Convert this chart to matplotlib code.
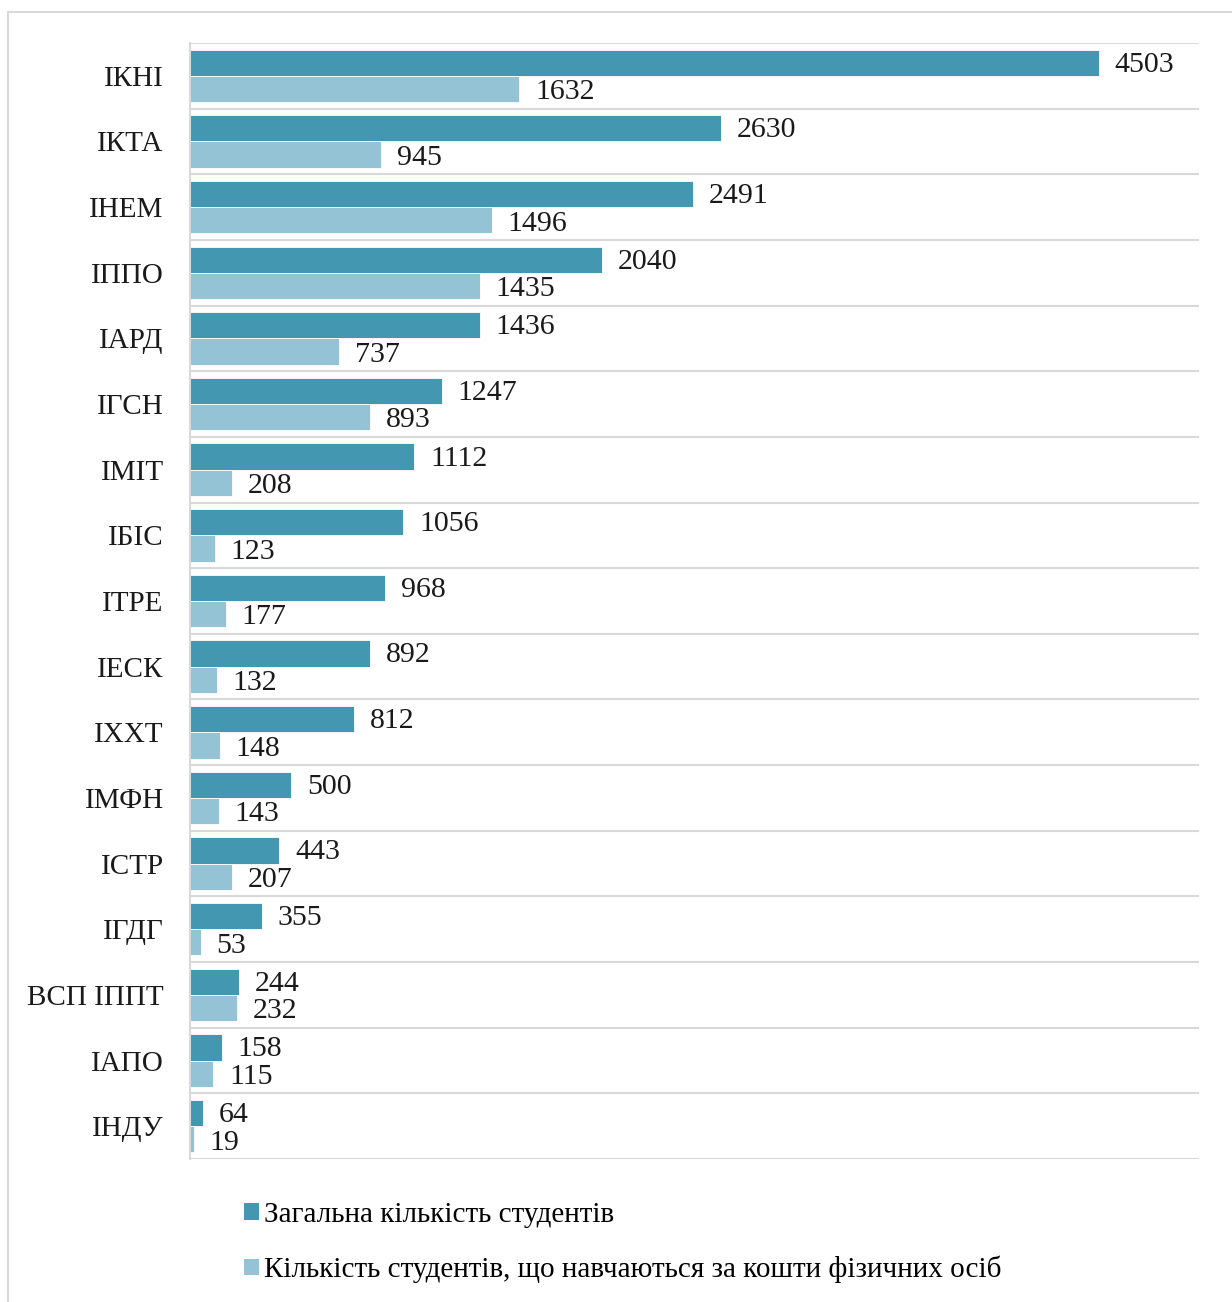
import numpy as np
import matplotlib.pyplot as plt
from matplotlib.patches import Rectangle, Patch

plt.rcParams["font.family"] = ["Liberation Serif", "DejaVu Serif"]

institutes = ["ІКНІ", "ІКТА", "ІНЕМ", "ІППО", "ІАРД", "ІГСН", "ІМІТ", "ІБІС", "ІТРЕ",
              "ІЕСК", "ІХХТ", "ІМФН", "ІСТР", "ІГДГ", "ВСП ІППТ", "ІАПО", "ІНДУ"]
total = [4503, 2630, 2491, 2040, 1436, 1247, 1112, 1056, 968, 892, 812, 500, 443, 355, 244, 158, 64]
paid = [1632, 945, 1496, 1435, 737, 893, 208, 123, 177, 132, 148, 143, 207, 53, 232, 115, 19]
series_names = ["Загальна кількість студентів",
                "Кількість студентів, що навчаються за кошти фізичних осіб"]

DARK = "#4397b0"
LIGHT = "#93c3d4"
GRID = "#d9d9d9"

W, H = 1232, 1302
fig = plt.figure(figsize=(W / 100, H / 100), dpi=100)
ax = fig.add_axes([190 / W, 1 - 1159 / H, (1199 - 190) / W, (1159 - 43) / H])

y = np.arange(len(institutes))
bh = 0.4
ax.barh(y - bh / 2, total, height=bh, color=DARK, edgecolor="#ffffff", linewidth=0.6)
ax.barh(y + bh / 2, paid, height=bh, color=LIGHT, edgecolor="#ffffff", linewidth=0.6)

for yi, v in zip(y, total):
    ax.annotate(str(v), (v, yi - bh / 2 + 0.03), xytext=(11.5, 0), textcoords="offset points",
                va="center", ha="left", fontsize=21.5, color="#1a1a1a")
for yi, v in zip(y, paid):
    ax.annotate(str(v), (v, yi + bh / 2 + 0.05), xytext=(11.5, 0), textcoords="offset points",
                va="center", ha="left", fontsize=21.5, color="#1a1a1a")

for b in np.arange(-0.5, len(institutes), 1.0):
    ax.axhline(b, color=GRID, lw=1.5, zorder=0)

ax.set_xlim(0, 5000)
ax.set_ylim(len(institutes) - 0.5, -0.5)
ax.set_yticks(y)
ax.set_yticklabels(institutes, fontsize=21, color="#1a1a1a")
ax.tick_params(axis="y", length=0, pad=19)
ax.set_xticks([])
for s in ["top", "right", "bottom"]:
    ax.spines[s].set_visible(False)
ax.spines["left"].set_color(GRID)
ax.spines["left"].set_linewidth(1.5)

handles = [Patch(facecolor=DARK), Patch(facecolor=LIGHT)]
fig.legend(handles, series_names, loc="upper left", bbox_to_anchor=(244 / W, 1 - 1202 / H),
           frameon=False, fontsize=21, handlelength=0.5, handleheight=0.5,
           handletextpad=0.2, labelspacing=0.95, borderaxespad=0, borderpad=0)

fig.add_artist(Rectangle((8 / W, -0.1), 1.2, 1.1 - 12 / H, transform=fig.transFigure,
                         fill=False, edgecolor=GRID, lw=1.5))

fig.savefig("out.png", dpi=100, facecolor="white")
